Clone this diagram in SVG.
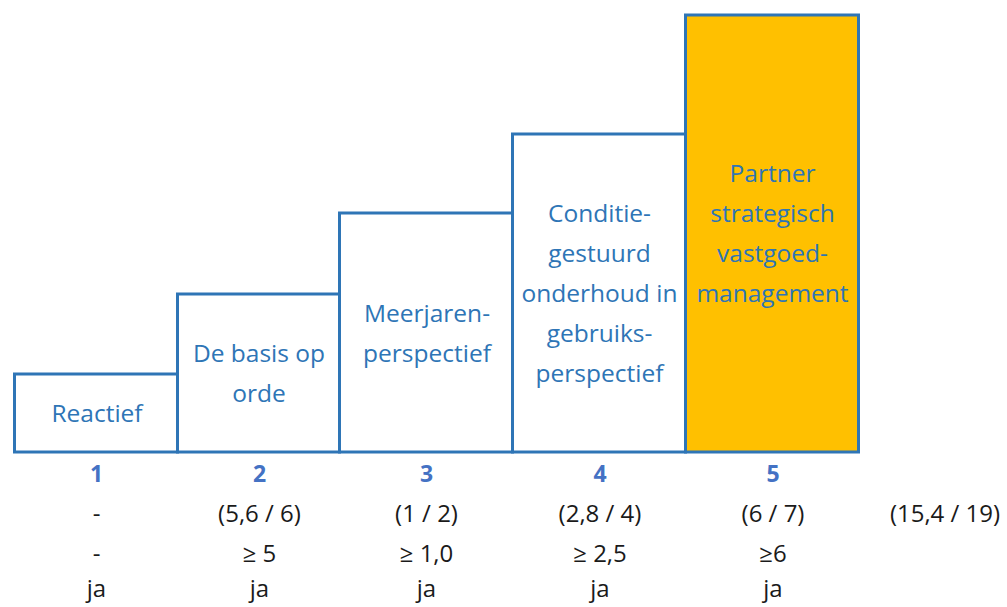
<svg xmlns="http://www.w3.org/2000/svg" width="1007" height="607" viewBox="0 0 1007 607">
  <style>
    .step { fill: #ffffff; stroke: #2e75b6; stroke-width: 3; }
    .top { fill: #ffc000; }
    .lbl { font-family: "Open Sans", "Noto Sans", sans-serif; font-size: 24.5px; fill: #2e75b6; text-anchor: middle; }
    .num { font-family: "Open Sans", "Noto Sans", sans-serif; font-size: 23px; font-weight: bold; fill: #4472c4; text-anchor: middle; }
    .val { font-family: "Open Sans", "Noto Sans", sans-serif; font-size: 24px; fill: #1a1a1a; text-anchor: middle; }
  </style>
  <rect width="1007" height="607" fill="#ffffff"/>

  <!-- staircase of maturity levels -->
  <g id="level1">
    <rect class="step" x="14.5" y="374" width="163" height="78"/>
    <text class="lbl" x="97" y="421.7">Reactief</text>
  </g>
  <g id="level2">
    <rect class="step" x="177.5" y="294" width="162" height="158"/>
    <text class="lbl" x="259" y="361.7">De basis op</text>
    <text class="lbl" x="259" y="401.7">orde</text>
  </g>
  <g id="level3">
    <rect class="step" x="339.5" y="213" width="173" height="239"/>
    <text class="lbl" x="427" y="321.7">Meerjaren-</text>
    <text class="lbl" x="427" y="361.7">perspectief</text>
  </g>
  <g id="level4">
    <rect class="step" x="512.5" y="134" width="173" height="318"/>
    <text class="lbl" x="599.5" y="221.7">Conditie-</text>
    <text class="lbl" x="599.5" y="261.7">gestuurd</text>
    <text class="lbl" x="599.5" y="301.7">onderhoud in</text>
    <text class="lbl" x="599.5" y="341.7">gebruiks-</text>
    <text class="lbl" x="599.5" y="381.7">perspectief</text>
  </g>
  <g id="level5">
    <rect class="step top" x="685.5" y="15" width="173" height="437"/>
    <text class="lbl" x="772.5" y="181.7">Partner</text>
    <text class="lbl" x="772.5" y="221.7">strategisch</text>
    <text class="lbl" x="772.5" y="261.7">vastgoed-</text>
    <text class="lbl" x="772.5" y="301.7">management</text>
  </g>

  <!-- level numbers and figures per level -->
  <g id="table">
    <text class="num" x="96.5" y="482">1</text>
    <text class="num" x="259.5" y="482">2</text>
    <text class="num" x="426.5" y="482">3</text>
    <text class="num" x="600" y="482">4</text>
    <text class="num" x="773" y="482">5</text>

    <text class="val" x="96.5" y="522">-</text>
    <text class="val" x="259.5" y="522">(5,6 / 6)</text>
    <text class="val" x="426.5" y="522">(1 / 2)</text>
    <text class="val" x="600" y="522">(2,8 / 4)</text>
    <text class="val" x="773" y="522">(6 / 7)</text>
    <text class="val" x="945" y="522">(15,4 / 19)</text>

    <text class="val" x="96.5" y="562">-</text>
    <text class="val" x="259.5" y="562">≥ 5</text>
    <text class="val" x="426.5" y="562">≥ 1,0</text>
    <text class="val" x="600" y="562">≥ 2,5</text>
    <text class="val" x="773" y="562">≥6</text>

    <text class="val" x="96.5" y="597">ja</text>
    <text class="val" x="259.5" y="597">ja</text>
    <text class="val" x="426.5" y="597">ja</text>
    <text class="val" x="600" y="597">ja</text>
    <text class="val" x="773" y="597">ja</text>
  </g>
</svg>
